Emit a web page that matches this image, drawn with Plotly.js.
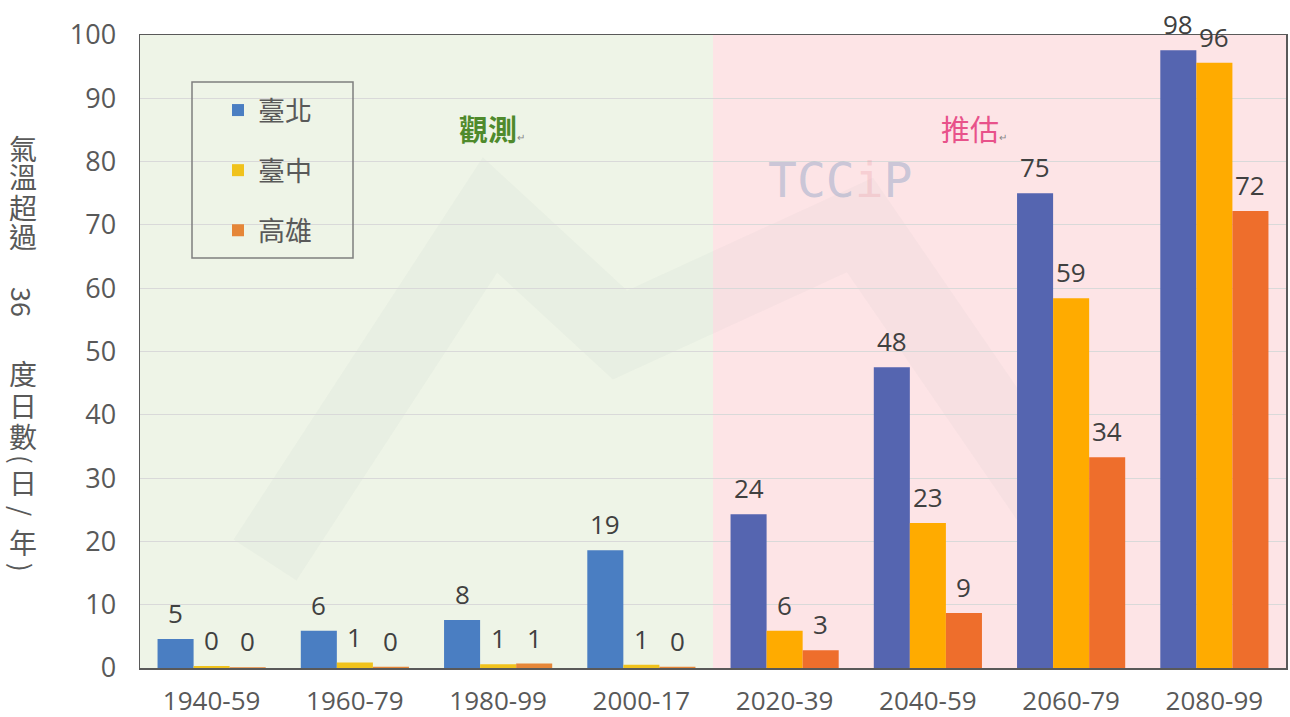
<!DOCTYPE html>
<html>
<head>
<meta charset="utf-8">
<script src="https://cdn.plot.ly/plotly-3.0.1.min.js"></script>
<style>html,body{margin:0;padding:0;background:#fff;}#chart{width:1290px;height:717px;}</style>
</head>
<body>
<div id="chart"></div>
<script>
// ---- data ----
const categories = ['1940-59','1960-79','1980-99','2000-17','2020-39','2040-59','2060-79','2080-99'];
const taipei    = [4.6, 5.9, 7.6, 18.6, 24.3, 47.5, 75.0, 97.6];
const taichung  = [0.3, 0.85, 0.6, 0.5, 5.9, 22.9, 58.4, 95.6];
const kaohsiung = [0.1, 0.2, 0.7, 0.2, 2.8, 8.7, 33.3, 72.2];
const taipeiLabels    = [5, 6, 8, 19, 24, 48, 75, 98];
const taichungLabels  = [0, 1, 1, 1, 6, 23, 59, 96];
const kaohsiungLabels = [0, 0, 1, 0, 3, 9, 34, 72];
const seriesNames = ['臺北', '臺中', '高雄'];
const nObserved = 4;
const yTicks = [0,10,20,30,40,50,60,70,80,90,100];

// ---- styles ----
const CJK = '"Noto Sans CJK TC", "Noto Sans", sans-serif';
const NUM = '"Open Sans", "Noto Sans", sans-serif';
const obsColors  = ['#4a7ec2', '#f0c21c', '#e58638'];
const projColors = ['#5565b0', '#ffab00', '#ee6e2c'];
const BARGAP = 0.245;

const L = 140, R = 1286, T = 35, B = 668;
const X = px => (px - L) / (R - L);
const Y = py => (B - py) / (B - T);

const values = [taipei, taichung, kaohsiung];
const labels = [taipeiLabels, taichungLabels, kaohsiungLabels];

const traces = values.map((v, i) => ({
  type: 'bar',
  name: seriesNames[i],
  x: categories,
  y: v,
  marker: {color: categories.map((c, k) => k < nObserved ? obsColors[i] : projColors[i]), line: {width: 0}},
  legendgroup: 'g' + i,
  hoverinfo: 'x+y+name'
}));

const annotations = [];
// bar value labels, anchored at each bar top
const barW = (1 - BARGAP) / values.length;
values.forEach((v, i) => {
  v.forEach((val, k) => {
    annotations.push({xref: 'x', yref: 'y', x: k + (i - (values.length - 1) / 2) * barW, y: val,
      yshift: 26, xanchor: 'center', yanchor: 'middle', showarrow: false,
      text: String(labels[i][k]), font: {family: NUM, size: 26, color: '#404040'}});
  });
});

// vertical y-axis title (upright CJK, rotated latin)
function addTitle(t, py, angle, size, h) {
  const a = {xref: 'paper', yref: 'paper', x: X(23), y: Y(py), xanchor: 'center', yanchor: 'middle',
    text: t, showarrow: false, textangle: angle || 0,
    font: {family: CJK, size: size || 28, color: '#595959'}};
  if (h) a.height = h;
  annotations.push(a);
}
addTitle('氣', 147, 0, 28, 29);
addTitle('溫', 176, 0, 28, 29);
addTitle('超', 206, 0, 28, 29);
addTitle('過', 236, 0, 28, 29);
addTitle('36', 302, 90, 27);
addTitle('度', 372, 0, 28, 29);
addTitle('日', 404, 0, 28, 29);
addTitle('數', 435, 0, 28, 29);
addTitle('(', 459, 90, 26);
addTitle('日', 482, 0, 28, 28);
addTitle('/', 511, 90, 26);
addTitle('年', 541, 0, 28, 29);
addTitle(')', 567, 90, 26);

annotations.push({xref: 'paper', yref: 'paper', x: X(492), y: Y(128), xanchor: 'center', yanchor: 'middle', showarrow: false,
  text: '<b>觀測</b><span style="font-size:10px;color:#888">↵</span>', font: {family: CJK, size: 29, color: '#4f8a2c'}});
annotations.push({xref: 'paper', yref: 'paper', x: X(974), y: Y(128), xanchor: 'center', yanchor: 'middle', showarrow: false,
  text: '推估<span style="font-size:10px;color:#888">↵</span>', font: {family: CJK, size: 29, color: '#e8528a'}});
annotations.push({xref: 'paper', yref: 'paper', x: X(840), y: Y(180), xanchor: 'center', yanchor: 'middle', showarrow: false,
  text: 'TCC<span style="color:rgba(225,120,130,0.5)">i</span>P', font: {family: 'DejaVu Sans Mono, monospace', size: 48, color: 'rgba(120,150,190,0.4)'}});

const shapes = [
  {type: 'rect', xref: 'x', yref: 'paper', x0: -0.5, x1: nObserved - 0.5, y0: 0, y1: 1, fillcolor: '#eef4e7', line: {width: 0}, layer: 'below'},
  {type: 'rect', xref: 'x', yref: 'paper', x0: nObserved - 0.5, x1: categories.length - 0.5, y0: 0, y1: 1, fillcolor: '#fde4e6', line: {width: 0}, layer: 'below'},
  // faint logo watermark
  {type: 'path', xref: 'paper', yref: 'paper', layer: 'below',
   path: `M${X(265)},${Y(560)} L${X(490)},${Y(215)} L${X(620)},${Y(335)} L${X(860)},${Y(225)} L${X(1090)},${Y(560)}`,
   line: {color: 'rgba(140,160,150,0.05)', width: 75}},
  // legend box
  {type: 'rect', xref: 'paper', yref: 'paper', x0: X(192), x1: X(353), y0: Y(258), y1: Y(82), line: {color: '#7f7f7f', width: 1.5}, fillcolor: 'rgba(0,0,0,0)'}
];

const layout = {
  width: 1290, height: 717,
  margin: {l: L, r: 1290 - R, t: T, b: 717 - B, pad: 0},
  paper_bgcolor: '#ffffff', plot_bgcolor: 'rgba(0,0,0,0)',
  barmode: 'group', bargap: BARGAP, bargroupgap: 0,
  font: {family: CJK, color: '#595959'},
  xaxis: {type: 'category', tickfont: {family: NUM, size: 26, color: '#595959'}, showline: true, mirror: true,
          linecolor: '#595959', linewidth: 1.5, ticks: '', ticklabelstandoff: 9, showgrid: false},
  yaxis: {range: [0, 100], tickvals: yTicks, tickfont: {family: NUM, size: 27, color: '#595959'}, showline: true, mirror: true,
          linecolor: '#595959', linewidth: 1.5, ticks: '', ticklabelstandoff: 17, gridcolor: '#d9d9d9', gridwidth: 1, zeroline: false},
  showlegend: true,
  legend: {x: X(218), y: Y(86), xanchor: 'left', yanchor: 'top', bgcolor: 'rgba(0,0,0,0)', borderwidth: 0,
           font: {family: CJK, size: 27, color: '#595959'}, traceorder: 'grouped', tracegroupgap: 22, itemclick: false},
  annotations: annotations,
  shapes: shapes
};

Plotly.newPlot('chart', traces, layout, {displayModeBar: false, staticPlot: true});
</script>
</body>
</html>
